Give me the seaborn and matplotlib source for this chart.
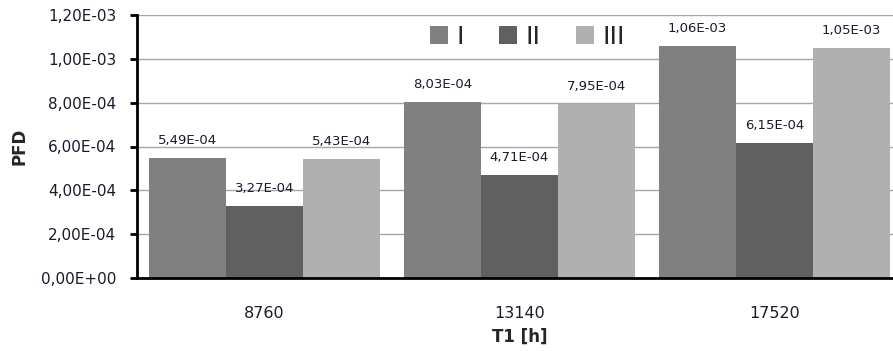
import matplotlib
matplotlib.use("Agg")
import matplotlib.pyplot as plt
import seaborn as sns
import pandas as pd
from matplotlib.ticker import FuncFormatter

# Proof-test interval categories and PFD values per configuration
t1_hours = ["8760", "13140", "17520"]
pfd_I = [5.49e-4, 8.03e-4, 1.06e-3]
pfd_II = [3.27e-4, 4.71e-4, 6.15e-4]
pfd_III = [5.43e-4, 7.95e-4, 1.05e-3]
series_names = ["I", "II", "III"]
series_colors = ["#808080", "#606060", "#b0b0b0"]

df = pd.DataFrame({
    "T1": t1_hours * 3,
    "PFD": pfd_I + pfd_II + pfd_III,
    "series": [s for s in series_names for _ in t1_hours],
})

sns.set_theme(style="white")
plt.rcParams["font.family"] = ["DejaVu Sans"]

fig = plt.figure(figsize=(8.93, 3.51), dpi=100)
ax = fig.add_axes([137 / 893, (351 - 278) / 351, 765 / 893, (278 - 15) / 351])

sns.barplot(data=df, x="T1", y="PFD", hue="series", palette=series_colors,
            width=0.906, gap=0, ax=ax, legend=True, saturation=1,
            edgecolor="none")


def sci_comma(v):
    s = f"{v:.2E}"
    mant, exp = s.split("E")
    sign = exp[0]
    return f"{mant.replace('.', ',')}E{sign}{abs(int(exp)):02d}"


for cont in ax.containers:
    labels = [sci_comma(b.get_height()) for b in cont]
    ax.bar_label(cont, labels=labels, padding=8, fontsize=9.5, color="#1a1a2e")

ax.set_ylim(0, 1.2e-3)
ax.set_yticks([i * 2e-4 for i in range(7)])
ax.yaxis.set_major_formatter(FuncFormatter(lambda v, p: sci_comma(v)))
ax.set_xlim(-0.5, 2.5)

ax.grid(axis="y", color="#a6a6a6", linewidth=1)
ax.set_axisbelow(True)
for side in ["top", "right"]:
    ax.spines[side].set_visible(False)
for side in ["left", "bottom"]:
    ax.spines[side].set_color("black")
    ax.spines[side].set_linewidth(2)

ax.tick_params(axis="y", which="major", left=True, length=5, width=2,
               color="black", labelsize=11, pad=10, labelcolor="#1a1a2e")
ax.tick_params(axis="x", bottom=False, labelsize=11.5, pad=14, labelcolor="#1a1a2e")

ax.set_ylabel("PFD", fontsize=12, fontweight="bold", labelpad=9)
ax.set_xlabel("T1 [h]", fontsize=12, fontweight="bold", labelpad=5)

leg = ax.legend(loc="center left", bbox_to_anchor=(0.383, 0.917), ncol=3,
                frameon=False, fontsize=18, handlelength=0.72, handleheight=0.72,
                columnspacing=1.4, handletextpad=0.35, borderaxespad=0,
                borderpad=0)

fig.savefig("out.png", dpi=100)
